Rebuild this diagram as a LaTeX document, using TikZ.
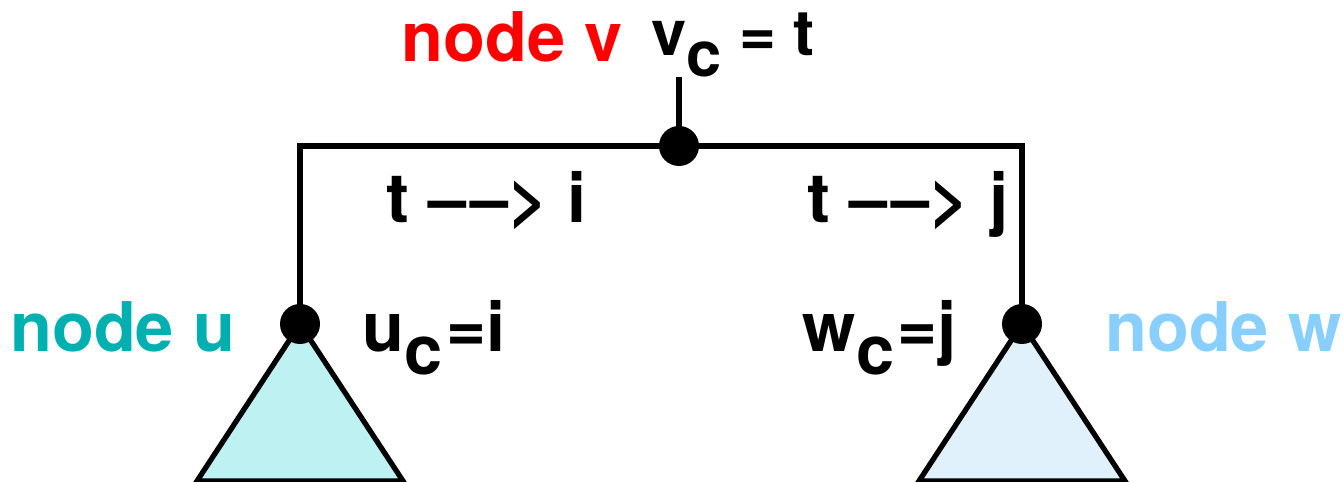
\documentclass[tikz,border=0pt]{standalone}
\usepackage{fontspec}
\setmainfont{TeX Gyre Heros}
\definecolor{nodered}{RGB}{255,0,0}
\definecolor{nodeteal}{RGB}{0,176,176}
\definecolor{nodesky}{RGB}{136,206,255}
\definecolor{treecyan}{RGB}{190,242,242}
\definecolor{treeblue}{RGB}{224,241,252}
\newcommand{\lowc}{\raisebox{-0.33em}{c}}
\newcommand{\dasharrow}{\textendash\kern0.06em\textendash>}

\begin{document}
\begin{tikzpicture}[
  x=1cm,
  y=1cm,
  font=\fontsize{39}{46}\selectfont\bfseries,
  line/.style={draw=black,line width=3pt},
  dot/.style={circle,fill=black,inner sep=0pt,minimum size=0.8cm},
  subtree/.style={line,line join=miter},
  label/.style={anchor=base west,inner sep=0pt}
]
\useasboundingbox (0,0) rectangle (26.86,9.64);

% Subtrees below the children
\draw[subtree,fill=treecyan] (6.0,3.16) -- (3.94,0.02) -- (8.06,0.02) -- cycle;
\draw[subtree,fill=treeblue] (20.44,3.16) -- (18.38,0.02) -- (22.50,0.02) -- cycle;

% Tree nodes
\node[dot] (vdot) at (13.58,6.72) {};
\node[dot] (udot) at (6.0,3.16) {};
\node[dot] (wdot) at (20.44,3.16) {};
\coordinate (vtop) at (13.58,8.1);

% Edges
\draw[line] (udot.center) |- (vdot.center) -| (wdot.center);
\draw[line] (vdot.center) -- (vtop);

% Labels
\node[anchor=base,inner sep=0pt,text=nodered] (vname) at (10.24,8.40) {node v};
\node[label,font=\fontsize{36}{43}\selectfont\bfseries] (vlab) at (13.02,8.52) {v\lowc{} = t};
\node[label] (tiedge) at (7.72,5.19) {t \dasharrow{} i};
\node[label] (tjedge) at (16.15,5.19) {t \dasharrow{} j};
\node[label,text=nodeteal] (uname) at (0.2,2.6) {node u};
\node[label] (ulab) at (7.25,2.6) {u\lowc\kern0.05em=i};
\node[label] (wlab) at (16.05,2.6) {w\lowc\kern0.05em=j};
\node[label,text=nodesky] (wname) at (22.1,2.6) {node w};

\end{tikzpicture}
\end{document}
